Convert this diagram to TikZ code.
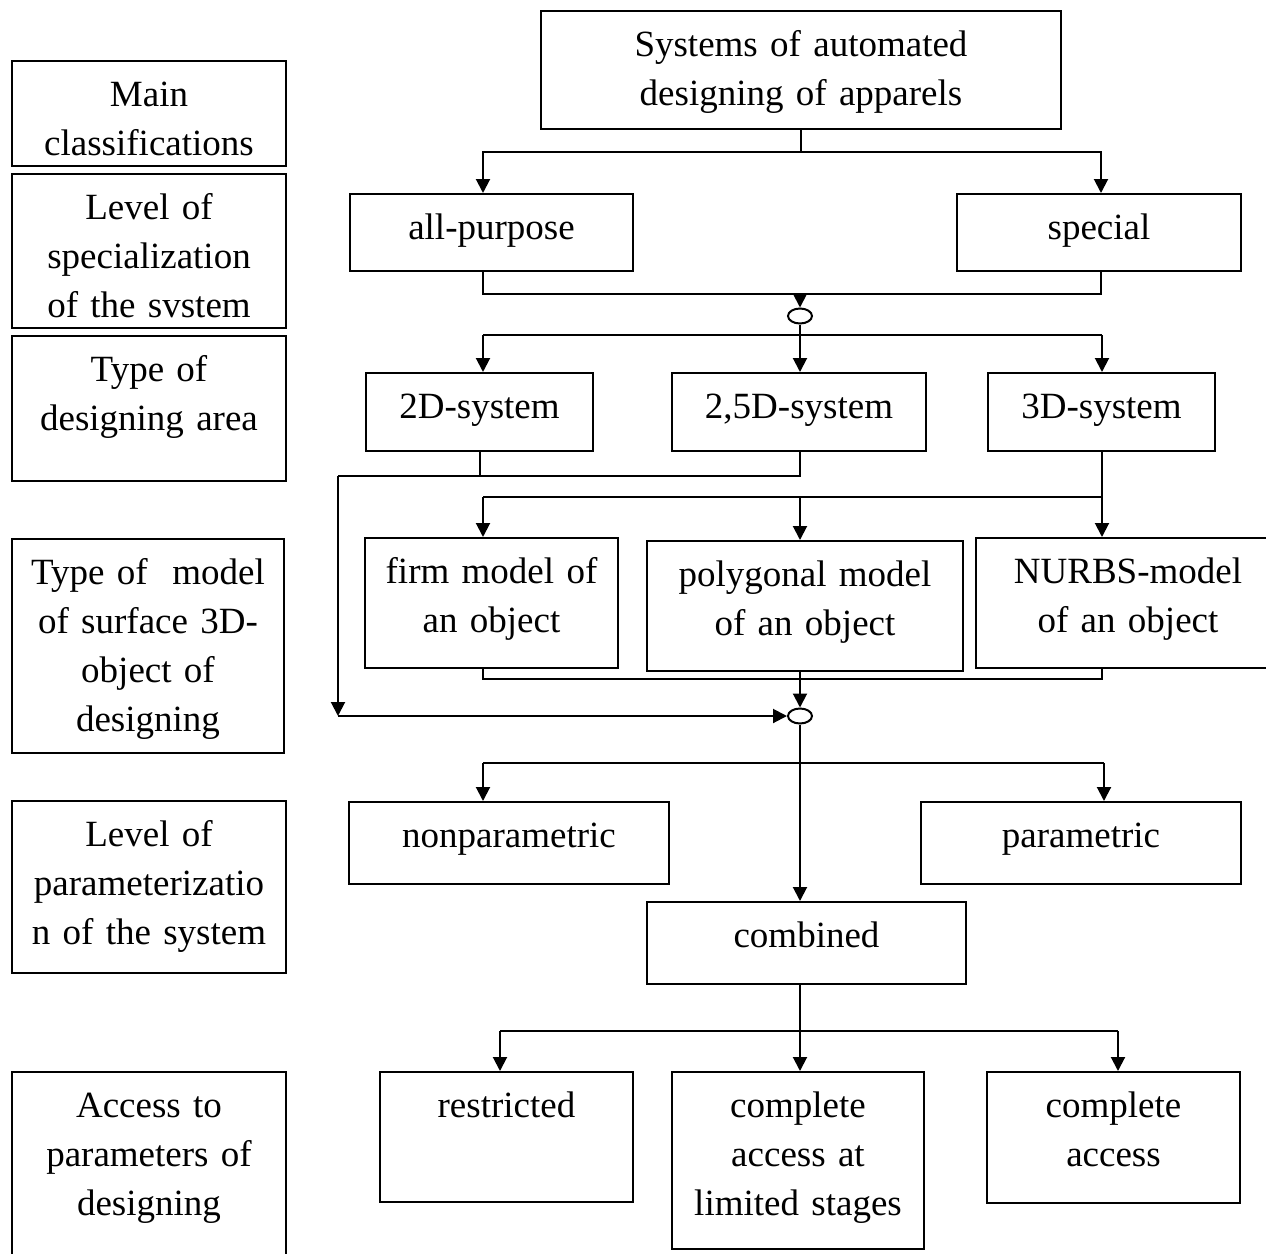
\documentclass[tikz,border=0pt]{standalone}
\usepackage{fontspec}
\setmainfont{Liberation Serif}
\usetikzlibrary{shapes,arrows.meta,positioning}

\begin{document}
\begin{tikzpicture}[x=0.5pt,y=-0.5pt,
block/.style 2 args={rectangle, draw=black, line width=1pt, anchor=north west, align=center, inner sep=0pt, text width=#1, text height=22.5pt, text depth=#2, font=\fontsize{18.5}{24.5}\selectfont},
junction/.style={ellipse, draw=black, line width=1pt, fill=white, minimum width=12pt, minimum height=7.5pt, inner sep=0pt},
line/.style={draw, line width=1pt},
arrow/.style={line, -{Triangle[length=7pt,width=7pt]}}]
  \useasboundingbox (0,0) rectangle (1266,1254);
  % left column - main classifications
  \node [block={137pt}{30pt}]   (cls)    at (11,60)   {Main\\classifications};
  \node [block={137pt}{54.5pt}] (cls_sp) at (11,173)  {Level of\\specialization\\of the svstem};
  \node [block={137pt}{50pt}]   (cls_ar) at (11,335)  {Type of\\designing area};
  \node [block={136pt}{84.5pt}] (cls_md) at (11,538)  {Type of~ model\\of surface 3D-\\object of\\designing};
  \node [block={137pt}{63.5pt}] (cls_pr) at (11,800)  {Level of\\parameterizatio\\n of the system};
  \node [block={137pt}{73pt}]   (cls_ac) at (11,1071) {Access to\\parameters of\\designing};
  % top
  \node [block={260pt}{36.5pt}] (top) at (540,10) {Systems of automated\\designing of apparels};
  % specialization - row 1
  \node [block={141.5pt}{16pt}] (allp) at (349,193) {all-purpose};
  \node [block={142pt}{16pt}]   (spec) at (956,193) {special};
  % designing area - row 2
  \node [block={113.5pt}{16.5pt}] (d2)  at (365,372) {2D-system};
  \node [block={127pt}{16.5pt}]   (d25) at (671,372) {2,5D-system};
  \node [block={113.5pt}{16.5pt}] (d3)  at (987,372) {3D-system};
  % models - row 3
  \node [block={126.5pt}{42.5pt}] (firm)  at (364,537) {firm model of\\an object};
  \node [block={158pt}{42.5pt}]   (poly)  at (646,540) {polygonal model\\of an object};
  \node [block={152pt}{42.5pt}]   (nurbs) at (975,537) {NURBS-model\\of an object};
  % parameterization - row 4
  \node [block={160pt}{18.5pt}]   (nonp) at (348,801) {nonparametric};
  \node [block={160pt}{18.5pt}]   (par)  at (920,801) {parametric};
  \node [block={159.5pt}{18.5pt}] (comb) at (646,901) {combined};
  % access - row 5
  \node [block={126.5pt}{42.5pt}] (restr) at (379,1071) {restricted};
  \node [block={126pt}{66pt}]     (compl) at (671,1071) {complete\\access at\\limited stages};
  \node [block={126.5pt}{43pt}]   (compa) at (986,1071) {complete\\access};
  % junctions
  \node [junction] (o1) at (800,316) {};
  \node [junction] (o2) at (800,716) {};
  % bus points
  \coordinate (s1a) at (483,152);  \coordinate (s1b) at (1101,152);
  \coordinate (s2a) at (483,294);  \coordinate (s2b) at (1101,294);
  \coordinate (s3a) at (483,335);  \coordinate (s3b) at (1102,335);
  \coordinate (s4a) at (338,476);
  \coordinate (s5a) at (483,497);  \coordinate (s5b) at (1102,497);
  \coordinate (s6a) at (483,679);  \coordinate (s6b) at (1102,679);
  \coordinate (s7a) at (483,763);  \coordinate (s7b) at (1104,763);
  \coordinate (s8a) at (500,1031); \coordinate (s8b) at (1118,1031);
  % connecting nodes with paths
  \draw[arrow] (top.south) |- (s1a) -- (s1a |- allp.north);
  \draw[arrow] (top.south) |- (s1b) -- (s1b |- spec.north);
  \draw[line] (s1a |- allp.south) -- (s2a) -- (s2b) -- (s1b |- spec.south);
  \draw[arrow] (o1 |- s2a) -- (o1.north);
  \draw[line] (s3a) -- (s3b);
  \draw[arrow] (o1.south) -- (o1 |- d25.north);
  \draw[arrow] (s3a) -- (s3a |- d2.north);
  \draw[arrow] (s3b) -- (s3b |- d3.north);
  \draw[line] (d2.south) |- (s4a);
  \draw[line] (o1 |- d25.south) |- (s4a);
  \draw[arrow] (s4a) -- (s4a |- o2.west);
  \draw[arrow] (s4a |- o2.west) -- (o2.west);
  \draw[arrow] (s5b |- d3.south) -- (s5b |- nurbs.north);
  \draw[line] (s5a) -- (s5b);
  \draw[arrow] (s5a) -- (s5a |- firm.north);
  \draw[arrow] (o1 |- s5a) -- (o1 |- poly.north);
  \draw[line] (s6a |- firm.south) -- (s6a) -- (s6b) -- (s6b |- nurbs.south);
  \draw[arrow] (o1 |- poly.south) -- (o2.north);
  \draw[arrow] (o2.south) -- (o2 |- comb.north);
  \draw[line] (s7a) -- (s7b);
  \draw[arrow] (s7a) -- (s7a |- nonp.north);
  \draw[arrow] (s7b) -- (s7b |- par.north);
  \draw[line] (o2 |- comb.south) -- (o2 |- s8a);
  \draw[line] (s8a) -- (s8b);
  \draw[arrow] (s8a) -- (s8a |- restr.north);
  \draw[arrow] (o2 |- s8a) -- (o2 |- compl.north);
  \draw[arrow] (s8b) -- (s8b |- compa.north);
\end{tikzpicture}
\end{document}
